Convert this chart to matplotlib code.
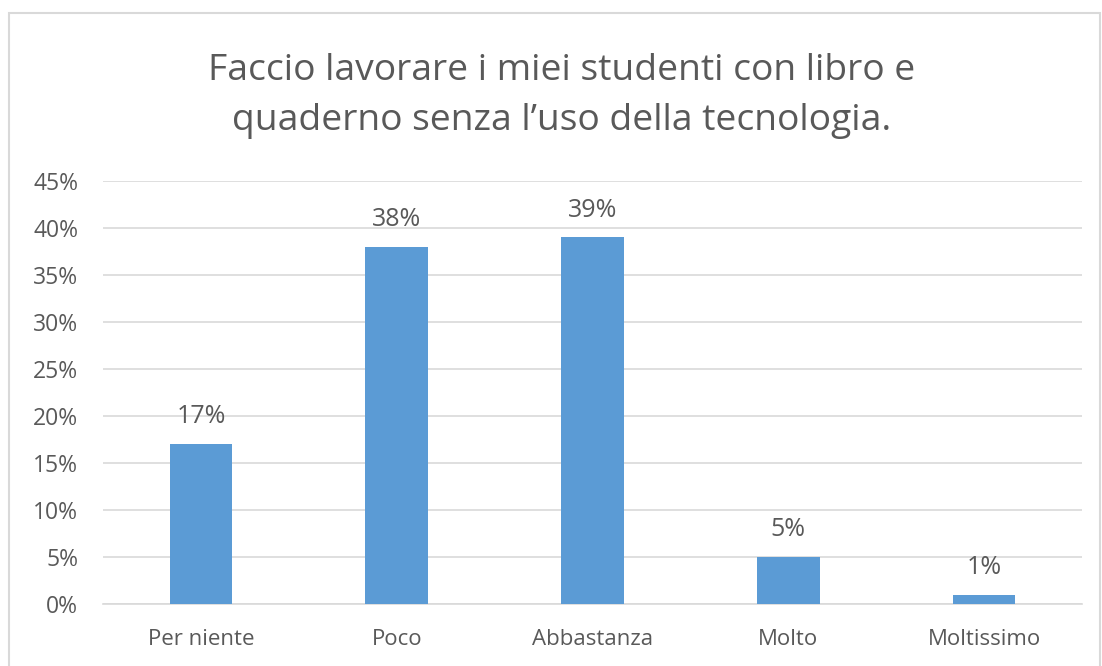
import matplotlib
matplotlib.use("Agg")
import matplotlib.pyplot as plt
from matplotlib.patches import Rectangle
from matplotlib.ticker import FuncFormatter

categories = ["Per niente", "Poco", "Abbastanza", "Molto", "Moltissimo"]
values = [0.17, 0.38, 0.39, 0.05, 0.01]
yticks = [0, 0.05, 0.10, 0.15, 0.20, 0.25, 0.30, 0.35, 0.40, 0.45]
title = "Faccio lavorare i miei studenti con libro e\nquaderno senza l\u2019uso della tecnologia."

plt.rcParams['font.family'] = ['Open Sans', 'DejaVu Sans']
txt = "#595959"
grid = "#D9D9D9"

fig = plt.figure(figsize=(11.02, 6.66), dpi=100)
# outer chart frame
fig.patches.append(Rectangle((9/1102, -0.01), (1100-9)/1102, 1 - 13/666 + 0.01,
                             transform=fig.transFigure, fill=False,
                             edgecolor="#D9D9D9", linewidth=1.5))

ax = fig.add_axes([103/1102, 1 - 604/666, (1082-103)/1102, (604-181)/666])
x = range(len(categories))
bars = ax.bar(x, values, width=0.32, color="#5B9BD5", zorder=3)
ax.set_xlim(-0.5, len(categories) - 0.5)
ax.set_ylim(0, 0.45)
ax.set_yticks(yticks)
ax.yaxis.set_major_formatter(FuncFormatter(lambda v, p: f"{v*100:.0f}%"))
ax.set_xticks(list(x))
ax.set_xticklabels(categories)
ax.grid(axis="y", color=grid, linewidth=1.2, zorder=0)
for s in ["top", "right", "left"]:
    ax.spines[s].set_visible(False)
ax.spines["bottom"].set_color(grid)
ax.spines["bottom"].set_linewidth(1.2)
ax.tick_params(axis="both", length=0, colors=txt)
ax.tick_params(axis="y", pad=18, labelsize=16.5)
ax.tick_params(axis="x", pad=18, labelsize=16)

for xi, v in zip(x, values):
    ax.annotate(f"{v*100:.0f}%", (xi, v), xytext=(0, 15), textcoords="offset points",
                ha="center", va="baseline", color=txt, fontsize=18)

fig.text(0.510, 1 - 96/666, title, ha="center", va="center", fontsize=26.8,
         color=txt, linespacing=1.55)

fig.savefig("out.png", dpi=100)
